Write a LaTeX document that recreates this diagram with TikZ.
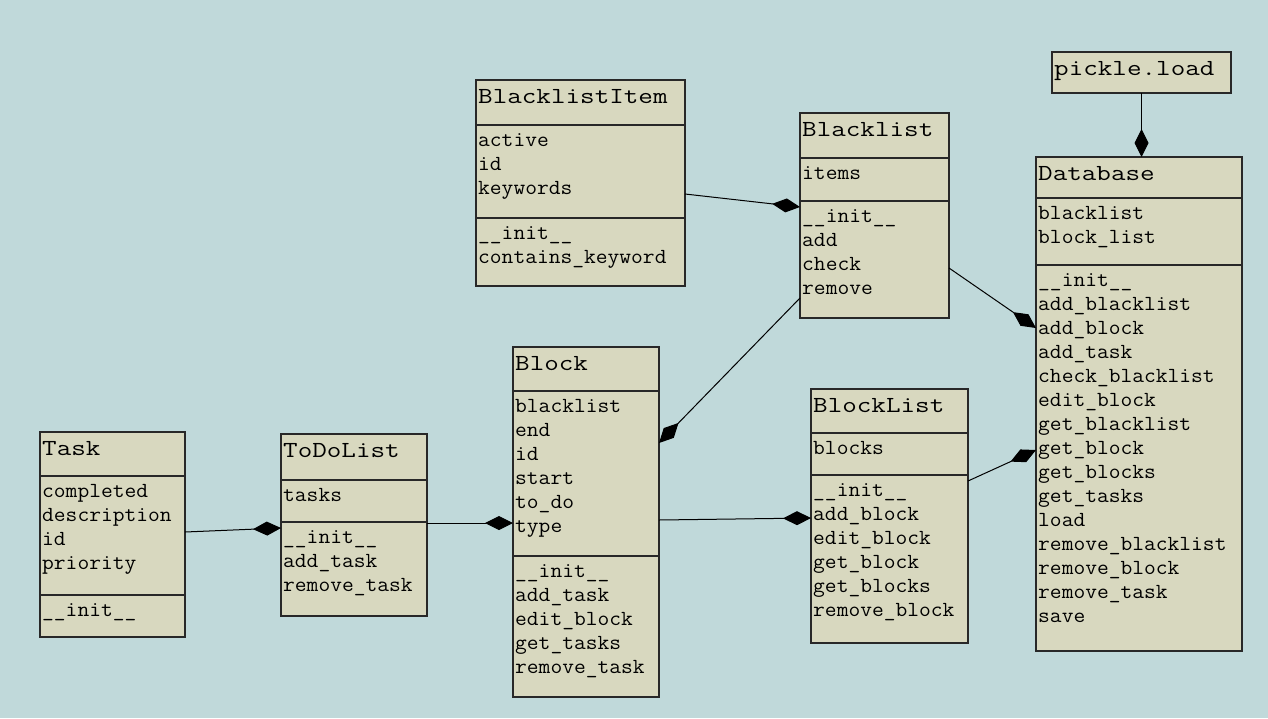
\documentclass[tikz,border=0pt]{standalone}
\usepackage{graphicx}
\usetikzlibrary{arrows.meta}
\definecolor{bgc}{RGB}{192,217,218}
\definecolor{boxc}{RGB}{216,216,191}
\definecolor{linec}{RGB}{40,40,40}
\newcommand\ttlfont{\ttfamily\fontsize{23pt}{28pt}\selectfont}
\newcommand\memfont{\ttfamily\fontsize{21.5pt}{24pt}\selectfont}
\newcommand\ttltext[1]{\scalebox{1.23}[1]{#1}}
\newcommand\memtext[1]{\scalebox{1.063}[1]{#1}}
\tikzset{
  cls/.style={draw=linec, fill=boxc, line width=1.3pt, anchor=north west, inner sep=0pt, outer sep=0pt},
  ttl/.style={anchor=base west, inner sep=0pt, font=\ttlfont},
  mem/.style={anchor=base west, inner sep=0pt, font=\memfont},
  divline/.style={draw=linec, line width=1.3pt},
  comp/.style={draw=black, line width=1pt, -{Diamond[length=28pt,width=14pt]}},
}
% name, x, y, w, h, div1, div2, title
\newcommand\classbox[8]{%
  \node[cls, minimum width=#4pt, minimum height=#5pt] (#1) at (#2,-#3) {};
  \draw[divline] (#1.west |- 0,-#6) -- (#1.east |- 0,-#6);
  \draw[divline] (#1.west |- 0,-#7) -- (#1.east |- 0,-#7);
  \node[ttl] (#1-t) at ({#2+2},{-(#3+23)}) {\ttltext{#8}};
}
% prefix, x, first baseline, list
\newcommand\rowlist[4]{%
  \foreach \t [count=\i] in {#4}
    \node[mem] (#1\i) at ({#2+2},{-(#3+24*(\i-1))}) {\memtext{\t}};
}
\begin{document}
\begin{tikzpicture}[x=1pt,y=1pt]
\useasboundingbox (0,0) rectangle (1268,-718);
\fill[bgc] (0,0) rectangle (1268,-718);

% Task
\classbox{task}{40}{432}{145}{205}{476}{595}{Task}
\rowlist{task-a}{40}{497}{completed,description,id,priority}
\rowlist{task-m}{40}{616}{\_\_init\_\_}

% ToDoList
\classbox{todo}{281}{434}{146}{182}{480}{522}{ToDoList}
\rowlist{todo-a}{281}{501}{tasks}
\rowlist{todo-m}{281}{543}{\_\_init\_\_,add\_task,remove\_task}

% BlacklistItem
\classbox{bli}{476}{80}{209}{206}{125}{218}{BlacklistItem}
\rowlist{bli-a}{476}{146}{active,id,keywords}
\rowlist{bli-m}{476}{239}{\_\_init\_\_,contains\_keyword}

% Blacklist
\classbox{bl}{800}{113}{149}{205}{158}{201}{Blacklist}
\rowlist{bl-a}{800}{179}{items}
\rowlist{bl-m}{800}{222}{\_\_init\_\_,add,check,remove}

% Block
\classbox{block}{513}{347}{146}{350}{391}{556}{Block}
\rowlist{block-a}{513}{412}{blacklist,end,id,start,to\_do,type}
\rowlist{block-m}{513}{577}{\_\_init\_\_,add\_task,edit\_block,get\_tasks,remove\_task}

% BlockList
\classbox{blist}{811}{389}{157}{254}{433}{475}{BlockList}
\rowlist{blist-a}{811}{454}{blocks}
\rowlist{blist-m}{811}{496}{\_\_init\_\_,add\_block,edit\_block,get\_block,get\_blocks,remove\_block}

% Database
\classbox{db}{1036}{157}{206}{494}{198}{265}{Database}
\rowlist{db-a}{1036}{219}{blacklist,block\_list}
\rowlist{db-m}{1036}{286}{\_\_init\_\_,add\_blacklist,add\_block,add\_task,check\_blacklist,edit\_block,get\_blacklist,get\_block,get\_blocks,get\_tasks,load,remove\_blacklist,remove\_block,remove\_task,save}

% pickle.load
\node[cls, minimum width=179pt, minimum height=41pt] (pk) at (1052,-52) {};
\node[ttl] (pk-t) at (1054,-75) {\ttltext{pickle.load}};

% connectors
\draw[comp] ([yshift=-100pt]task.north east) -- ([yshift=-94pt]todo.north west);
\draw[comp] ([yshift=-89pt]todo.north east) -- ([yshift=-176pt]block.north west);
\draw[comp] ([yshift=-173pt]block.north east) -- ([yshift=-129pt]blist.north west);
\draw[comp] ([yshift=-114pt]bli.north east) -- ([yshift=-94pt]bl.north west);
\draw[comp] ([yshift=-185pt]bl.north west) -- ([yshift=-96pt]block.north east);
\draw[comp] ([yshift=-155pt]bl.north east) -- ([yshift=-171pt]db.north west);
\draw[comp] ([yshift=-92pt]blist.north east) -- ([yshift=-293pt]db.north west);
\draw[comp] (pk.south) -- (pk.south |- db.north);
\end{tikzpicture}
\end{document}
